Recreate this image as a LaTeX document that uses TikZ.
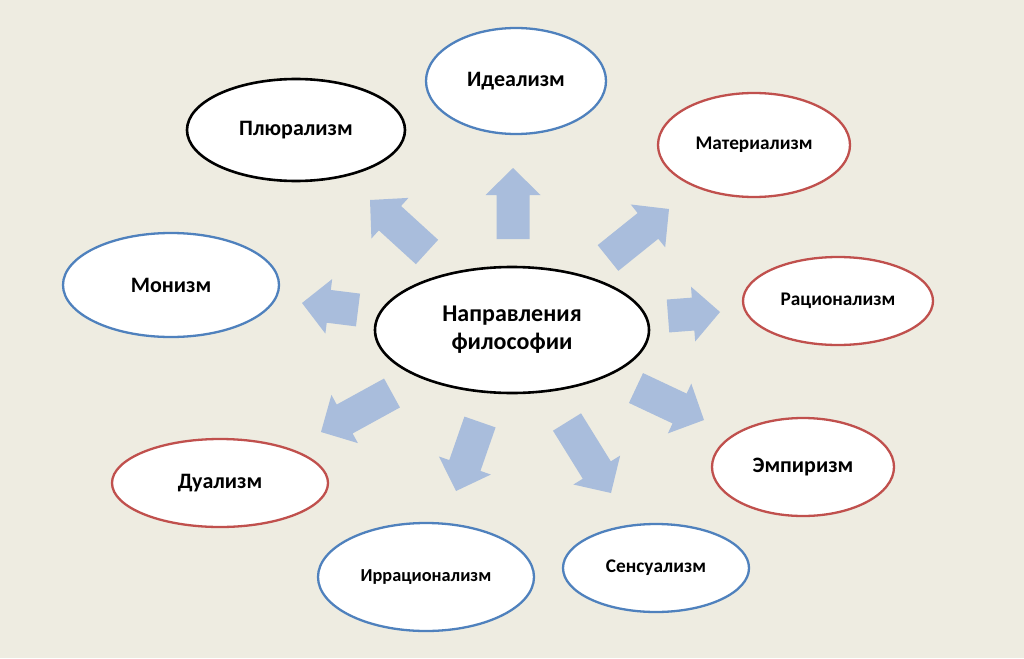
\documentclass[tikz,border=0pt]{standalone}
\usepackage{fontspec}
\setmainfont{Carlito}
\usetikzlibrary{calc,shapes.geometric}
\definecolor{bgc}{RGB}{238,236,225}
\definecolor{arrc}{RGB}{169,189,220}
\definecolor{bluec}{RGB}{79,129,189}
\definecolor{redc}{RGB}{192,80,77}
\tikzset{
  oval/.style={ellipse, fill=white, line width=2.3pt, inner sep=0pt, font=\bfseries, align=center},
  bigtxt/.style={font=\fontsize{22}{26}\selectfont\bfseries},
  smalltxt/.style={font=\fontsize{19.3}{23}\selectfont\bfseries},
  blueoval/.style={oval, draw=bluec},
  redoval/.style={oval, draw=redc},
  blackoval/.style={oval, draw=black, line width=2.6pt},
  barrow/.style={fill=arrc, draw=none}
}
\newcommand{\blockarr}[2]{%
  \fill[barrow]
    ($(#1)!16.5pt!90:(#2)$) --
    ($($(#2)!27pt!(#1)$)!16.5pt!90:(#2)$) --
    ($($(#2)!27pt!(#1)$)!27.5pt!90:(#2)$) --
    (#2) --
    ($($(#2)!27pt!(#1)$)!27.5pt!-90:(#2)$) --
    ($($(#2)!27pt!(#1)$)!16.5pt!-90:(#2)$) --
    ($(#1)!16.5pt!-90:(#2)$) -- cycle;}
\begin{document}
\begin{tikzpicture}[x=1pt,y=-1pt]
\fill[bgc] (0,0) rectangle (1024,658);
\useasboundingbox (0,0) rectangle (1024,658);
% ellipses
\node[blueoval, bigtxt, minimum width=180pt, minimum height=106pt] (ideal) at (516,81) {Идеализм};
\node[blackoval, bigtxt, minimum width=218pt, minimum height=102pt] (plur) at (296,130) {Плюрализм};
\node[redoval, smalltxt, minimum width=192pt, minimum height=104pt] (mater) at (754,145) {Материализм};
\node[blueoval, bigtxt, minimum width=216pt, minimum height=104pt] (monizm) at (171,285) {Монизм};
\node[blackoval, font=\fontsize{24}{30}\selectfont\bfseries, minimum width=274pt, minimum height=126pt] (center) at (512,330) {Направления\\[-2pt]философии};
\node[redoval, smalltxt, minimum width=190pt, minimum height=88pt] (ratio) at (838,301) {Рационализм};
\node[redoval, bigtxt, minimum width=182pt, minimum height=98pt] (empir) at (803,467) {Эмпиризм};
\node[redoval, bigtxt, minimum width=216pt, minimum height=88pt] (dual) at (220,483) {Дуализм};
\node[blueoval, font=\fontsize{18.3}{22}\selectfont\bfseries, minimum width=216pt, minimum height=108pt] (irrat) at (426,577) {Иррационализм};
\node[blueoval, smalltxt, minimum width=186pt, minimum height=88pt] (sens) at (656,568) {Сенсуализм};
% arrow coordinates
\coordinate (t1) at (513,239); \coordinate (h1) at (513,168);
\coordinate (t2) at (427,252); \coordinate (h2) at (370,200);
\coordinate (t3) at (608,258); \coordinate (h3) at (669,209);
\coordinate (t4) at (668,316); \coordinate (h4) at (720,312);
\coordinate (t5) at (636,388); \coordinate (h5) at (704,420);
\coordinate (t6) at (567,422); \coordinate (h6) at (611,493);
\coordinate (t7) at (480,422); \coordinate (h7) at (456,491);
\coordinate (t8) at (392,393); \coordinate (h8) at (321,432);
\coordinate (t9) at (358,310); \coordinate (h9) at (302,303);
\blockarr{t1}{h1}
\blockarr{t2}{h2}
\blockarr{t3}{h3}
\blockarr{t4}{h4}
\blockarr{t5}{h5}
\blockarr{t6}{h6}
\blockarr{t7}{h7}
\blockarr{t8}{h8}
\blockarr{t9}{h9}
\end{tikzpicture}
\end{document}
